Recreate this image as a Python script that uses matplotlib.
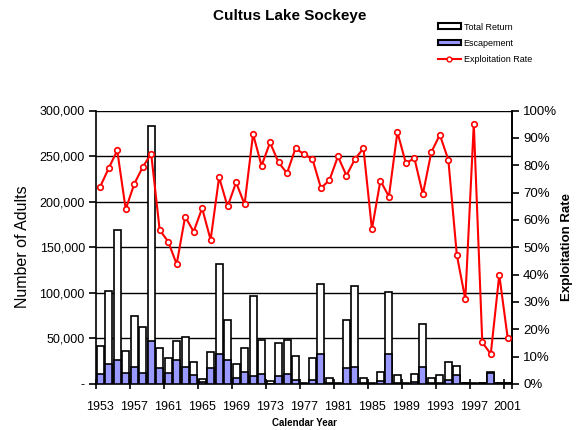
import matplotlib
matplotlib.use("Agg")
import matplotlib.pyplot as plt
from matplotlib.lines import Line2D
from matplotlib.patches import Patch
from matplotlib.ticker import FuncFormatter, FixedLocator

plt.rcParams["font.family"] = ["Liberation Sans", "DejaVu Sans"]

years = list(range(1953, 2002))

total_return = [
    41700, 102000, 169000, 36600, 74600, 62900, 283000, 39000, 28200, 47500,
    51900, 24100, 5500, 34800, 131700, 70300, 21600, 39000, 96000, 48000,
    3800, 45500, 48000, 30500, 1500, 28200, 109800, 6200, 1000, 70300,
    107600, 6200, 1000, 13500, 101300, 10300, 800, 10600, 65900, 6200,
    9900, 24000, 19400, 1200, 700, 800, 13000, 1500, 1000,
]

escapement = [
    10600, 21600, 26300, 12400, 19000, 11700, 47500, 17200, 12500, 26300,
    19000, 10200, 2000, 17200, 33000, 26300, 6200, 12800, 8800, 10600,
    450, 8800, 10600, 4400, 250, 4400, 33000, 1600, 170, 17200,
    19000, 900, 430, 3500, 33000, 800, 150, 1800, 19000, 1000,
    900, 4300, 9500, 800, 40, 680, 11600, 900, 830,
]

exploitation_rate = [
    72.2, 78.9, 85.4, 63.9, 73.1, 79.3, 84.2, 56.3, 52.1, 43.8,
    61.2, 55.7, 64.3, 52.7, 75.6, 64.9, 73.7, 65.7, 91.4, 79.8,
    88.3, 81.0, 77.1, 86.2, 84.0, 82.2, 71.6, 74.6, 83.2, 76.2,
    82.2, 86.2, 56.6, 74.4, 68.5, 92.1, 80.7, 82.6, 69.4, 84.8,
    91.1, 82.0, 47.2, 31.0, 95.1, 15.2, 11.0, 39.9, 16.7,
]

label_years = years[::4]

esc_color = "#9999ff"

fig = plt.figure(figsize=(5.77, 4.30), dpi=100)
ax = fig.add_axes([96 / 577, 46 / 430, 416 / 577, 273.5 / 430])

x = list(range(len(years)))
ax.bar(x, total_return, width=0.82, color="white", edgecolor="black", linewidth=1.2, zorder=2)
ax.bar(x, escapement, width=0.82, color=esc_color, edgecolor="black", linewidth=1.2, zorder=3)

ax.set_xlim(-0.5, len(years) - 0.5)
ax.set_ylim(0, 300000)
ax.set_yticks(range(0, 300001, 50000))
ax.yaxis.set_major_formatter(FuncFormatter(lambda v, p: "-" if v == 0 else f"{int(v):,}"))
ax.yaxis.grid(True, color="black", linewidth=1.0)
ax.set_axisbelow(True)

# labels centred on categories, tick marks on category boundaries
ax.set_xticks([years.index(y) for y in label_years])
ax.set_xticklabels([str(y) for y in label_years], fontsize=9)
ax.xaxis.set_minor_locator(FixedLocator([i - 0.5 for i in range(0, len(years) + 1, 4)] + [len(years) - 0.5]))
ax.tick_params(axis="x", which="major", length=0, pad=12)
ax.tick_params(axis="x", which="minor", direction="inout", length=7, width=1.2)
ax.tick_params(axis="y", direction="out", length=5, width=1.2, labelsize=9, pad=3)

for side in ["left", "bottom", "right"]:
    ax.spines[side].set_linewidth(1.2)
ax.spines["top"].set_visible(False)

fig.text(23 / 577, 1 - 247 / 430, "Number of Adults", rotation=90, ha="center", va="center",
         fontsize=11.5)
fig.text(304 / 577, 1 - 423 / 430, "Calendar Year", ha="center", va="center",
         fontsize=7, fontweight="bold")

ax2 = ax.twinx()
ax2.plot(x, [r / 100 for r in exploitation_rate], color="red", linewidth=1.5,
         marker="o", markersize=4, markerfacecolor="white", markeredgecolor="red",
         markeredgewidth=1.2, zorder=5)
ax2.set_ylim(0, 1)
ax2.set_yticks([i / 10 for i in range(11)])
ax2.yaxis.set_major_formatter(FuncFormatter(lambda v, p: f"{v * 100:.0f}%"))
ax2.tick_params(axis="y", direction="out", length=5, width=1.2, labelsize=9.5, pad=3)
ax2.spines["right"].set_linewidth(1.2)
ax2.spines["top"].set_visible(False)
ax2.spines["left"].set_visible(False)
ax2.spines["bottom"].set_visible(False)
fig.text(567 / 577, 1 - 247 / 430, "Exploitation Rate", rotation=90, ha="center", va="center",
         fontsize=9.5, fontweight="bold")

fig.text(290 / 577, 1 - 16 / 430, "Cultus Lake Sockeye", ha="center", va="center",
         fontsize=11, fontweight="bold")

handles = [
    Patch(facecolor="white", edgecolor="black", linewidth=1.5),
    Patch(facecolor=esc_color, edgecolor="black", linewidth=1.5),
    Line2D([0], [0], color="red", linewidth=1.5, marker="o", markersize=3.5,
           markerfacecolor="white", markeredgecolor="red"),
]
fig.legend(handles, ["Total Return", "Escapement", "Exploitation Rate"],
           loc="upper left", bbox_to_anchor=(433 / 577, 1 - 18 / 430),
           frameon=False, fontsize=6.5, borderpad=0, labelspacing=0.8,
           handlelength=2.6, handleheight=0.6, handletextpad=0.3)

fig.savefig("out.png", dpi=100)
plt.close(fig)
